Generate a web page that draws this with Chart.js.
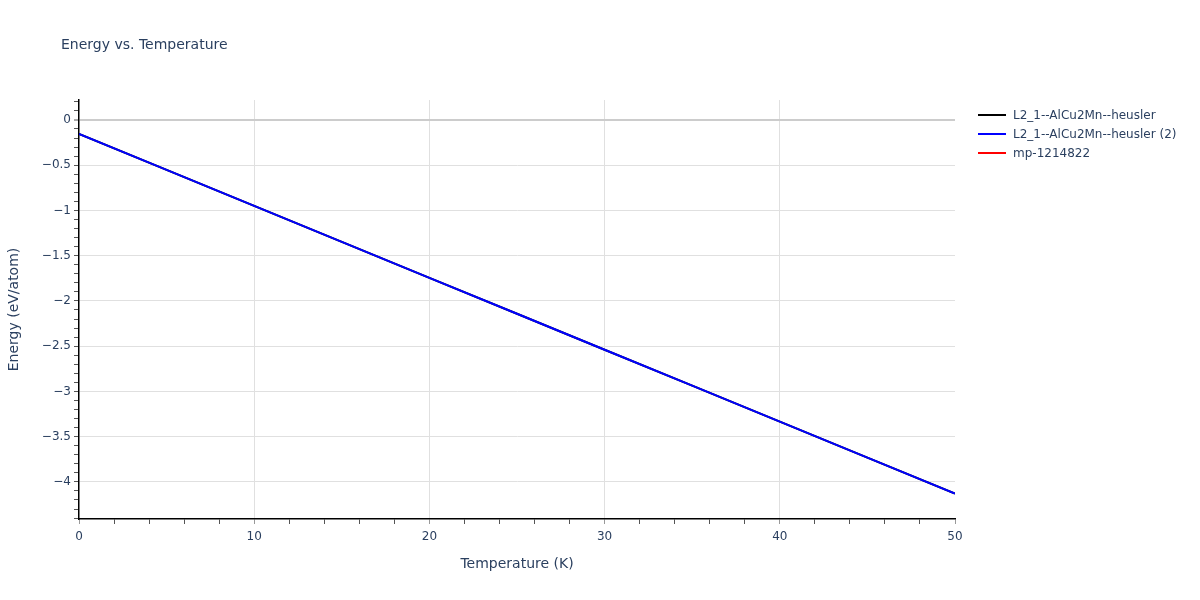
<!DOCTYPE html>
<html>
<head>
<meta charset="utf-8">
<script src="https://cdn.jsdelivr.net/npm/chart.js@4/dist/chart.umd.min.js"></script>
<style>
  html, body { margin: 0; padding: 0; background: #fff; }
  #wrap { position: relative; width: 1200px; height: 600px; font-family: "DejaVu Sans", Verdana, sans-serif; color: #2a3f5f; }
  #c { position: absolute; left: 0; top: 0; }
  #title { position: absolute; left: 61px; top: 36px; font-size: 14px; color: #2a3f5f; white-space: nowrap; }
  .leg { position: absolute; left: 978px; font-size: 12px; white-space: nowrap; height: 16px; line-height: 16px; }
  .leg span.sw { display: inline-block; width: 28px; height: 2px; vertical-align: middle; margin-right: 7px; position: relative; top: -1px; }
</style>
</head>
<body>
<div id="wrap">
  <canvas id="c" width="1200" height="600"></canvas>
  <div id="title">Energy vs. Temperature</div>
  <div id="legend"></div>
</div>
<script>
// ---- data ----
const seriesNames = ["L2_1--AlCu2Mn--heusler", "L2_1--AlCu2Mn--heusler (2)", "mp-1214822"];
const seriesColors = ["#000000", "#0000ff", "#ff0000"];
const temperatures = [0, 5, 10, 15, 20, 25, 30, 35, 40, 45, 50];
const energyBlack = [-0.155, -0.552, -0.95, -1.348, -1.745, -2.142, -2.54, -2.937, -3.334, -3.731, -4.128];
const energyBlue  = [-0.155, -0.552, -0.95, -1.348, -1.745, -2.142, -2.54, -2.937, -3.334, -3.731, -4.128];
const energyRed   = [];
const xTickLabels = ["0", "10", "20", "30", "40", "50"];
const yTickLabels = ["0", "\u22120.5", "\u22121", "\u22121.5", "\u22122", "\u22122.5", "\u22123", "\u22123.5", "\u22124"];
const xRange = [0, 50];
const yRange = [-4.41, 0.22];

// legend (HTML)
const legEl = document.getElementById('legend');
seriesNames.forEach((n, i) => {
  const d = document.createElement('div');
  d.className = 'leg';
  d.style.top = (107 + i * 19) + 'px';
  d.innerHTML = '<span class="sw" style="background:' + seriesColors[i] + '"></span>';
  d.appendChild(document.createTextNode(n));
  legEl.appendChild(d);
});

function toPts(xs, ys) { return ys.map((y, i) => ({x: xs[i], y: y})); }
function near(v, step) { return Math.abs(v / step - Math.round(v / step)) < 1e-6; }

const FAM = '"DejaVu Sans", Verdana, sans-serif';
const tickFont = { family: FAM, size: 12 };
const tickColor = '#2a3f5f';

new Chart(document.getElementById('c'), {
  type: 'line',
  data: {
    datasets: [
      { label: seriesNames[2], data: toPts(temperatures, energyRed), borderColor: seriesColors[2], borderWidth: 2, pointRadius: 0, order: 3 },
      { label: seriesNames[0], data: toPts(temperatures, energyBlack), borderColor: seriesColors[0], borderWidth: 2, pointRadius: 0, order: 2 },
      { label: seriesNames[1], data: toPts(temperatures, energyBlue), borderColor: seriesColors[1], borderWidth: 2, pointRadius: 0, order: 1 }
    ]
  },
  options: {
    responsive: false,
    animation: false,
    events: [],
    layout: { padding: { left: 0, right: 245, top: 100, bottom: 0 } },
    plugins: { legend: { display: false }, title: { display: false }, tooltip: { enabled: false } },
    scales: {
      x: {
        type: 'linear',
        min: xRange[0], max: xRange[1],
        afterFit: s => { s.height = 81; },
        afterBuildTicks: s => {
          const t = [];
          for (let v = xRange[0]; v <= xRange[1] + 1e-9; v += 2) t.push({ value: Math.round(v * 1000) / 1000 });
          s.ticks = t;
        },
        ticks: {
          autoSkip: false, maxRotation: 0, padding: 6,
          font: tickFont, color: tickColor,
          callback: (v) => near(v, 10) ? xTickLabels[Math.round(v / 10)] : ''
        },
        grid: {
          drawOnChartArea: true,
          color: ctx => (ctx.tick && near(ctx.tick.value, 10) && ctx.tick.value > 0 && ctx.tick.value < 50) ? '#e0e0e0' : 'rgba(0,0,0,0)',
          lineWidth: 1,
          tickLength: 5,
          tickColor: ctx => (ctx.tick && near(ctx.tick.value, 10)) ? '#999999' : '#555555',
          tickWidth: 1
        },
        border: { display: true, color: '#000000', width: 1.5 },
        title: {
          display: true, text: 'Temperature (K)', color: tickColor,
          font: { family: FAM, size: 14 },
          padding: { top: 0, bottom: 27 }
        }
      },
      y: {
        type: 'linear',
        min: yRange[0], max: yRange[1],
        afterFit: s => { s.width = 79; },
        afterBuildTicks: s => {
          const t = [];
          for (let k = Math.ceil(yRange[0] * 10); k <= Math.floor(yRange[1] * 10); k++) t.push({ value: k / 10 });
          s.ticks = t;
        },
        ticks: {
          autoSkip: false, padding: 3,
          font: tickFont, color: tickColor,
          callback: (v) => near(v, 0.5) ? yTickLabels[Math.round(-v / 0.5)] : ''
        },
        grid: {
          color: ctx => {
            if (!ctx.tick) return 'rgba(0,0,0,0)';
            const v = ctx.tick.value;
            if (Math.abs(v) < 1e-9) return '#cccccc';
            return near(v, 0.5) ? '#e0e0e0' : 'rgba(0,0,0,0)';
          },
          lineWidth: ctx => (ctx.tick && Math.abs(ctx.tick.value) < 1e-9) ? 2 : 1,
          tickLength: 5,
          tickColor: '#555555',
          tickWidth: 1
        },
        border: { display: true, color: '#000000', width: 1.5 },
        title: {
          display: true, text: 'Energy (eV/atom)', color: tickColor,
          font: { family: FAM, size: 14 },
          padding: { top: 6, bottom: 0 }
        }
      }
    }
  }
});
</script>
</body>
</html>
